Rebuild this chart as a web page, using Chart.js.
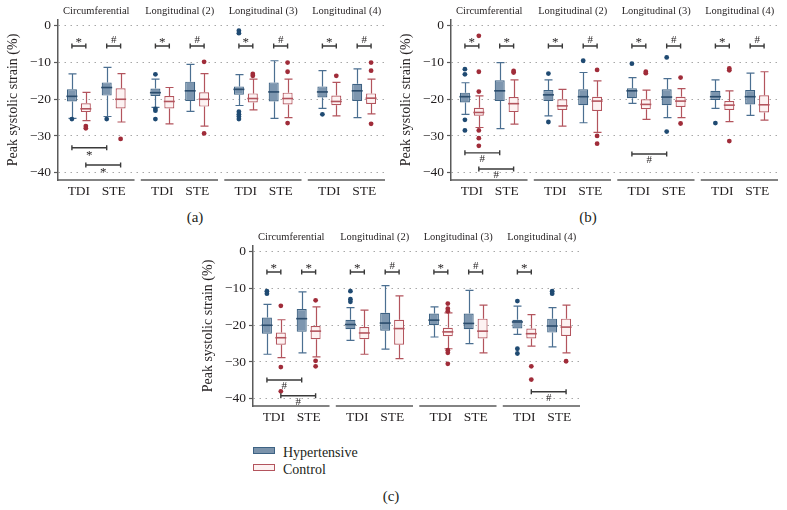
<!DOCTYPE html>
<html>
<head>
<meta charset="utf-8">
<script src="https://cdn.jsdelivr.net/npm/chart.js@4.4.1/dist/chart.umd.min.js"></script>
<style>
  body { margin: 0; background: #fff; width: 787px; height: 510px; position: relative; overflow: hidden;
         font-family: 'Liberation Serif', 'DejaVu Serif', serif; color: #231f20; }
  canvas { position: absolute; }
  .tag { position: absolute; font-size: 15px; line-height: 18px; width: 40px; margin-left: -20px; text-align: center; }
  .leg { position: absolute; font-size: 14px; line-height: 16px; white-space: nowrap; }
  .patch { display: inline-block; width: 20px; height: 5px; border: 1px solid; margin-right: 8px; vertical-align: 3px; }
</style>
</head>
<body>
<canvas id="panelA" width="393" height="200" style="left:0;top:0"></canvas>
<canvas id="panelB" width="393" height="200" style="left:393px;top:0"></canvas>
<canvas id="panelC" width="393" height="200" style="left:195px;top:226px"></canvas>
<div class="tag" style="left:195px;top:208px">(a)</div>
<div class="tag" style="left:588px;top:208px">(b)</div>
<div class="tag" style="left:391px;top:487px">(c)</div>
<div class="leg" style="left:253px;top:445px"><span class="patch" style="background:#7b93ab;border-color:#3d6283"></span>Hypertensive</div>
<div class="leg" style="left:253px;top:462px"><span class="patch" style="background:#fdf2f2;border-color:#b3545d"></span>Control</div>
<script>
const groups = ['Circumferential', 'Longitudinal (2)', 'Longitudinal (3)', 'Longitudinal (4)'];
const methods = ['TDI', 'STE'];
const yTicks = [0, -10, -20, -30, -40];

// box stats: [low whisker, Q1, median, Q3, high whisker]
// order: Circ TDI, Circ STE, L2 TDI, L2 STE, L3 TDI, L3 STE, L4 TDI, L4 STE
const hyperA = [
  [-25.2, -20.6, -19.2, -17.3, -13.1], [-24.7, -19.0, -16.8, -15.4, -11.3],
  [-22.2, -19.1, -18.2, -17.1, -14.5], [-23.3, -20.5, -17.7, -15.2, -10.5],
  [-21.7, -18.8, -17.3, -16.5, -13.3], [-25.2, -20.6, -18.0, -15.4, -9.5],
  [-22.5, -19.5, -18.0, -16.5, -12.2], [-25.0, -20.5, -17.7, -15.8, -11.7]
];
const hyperOutA = [[-25.4], [-25.4], [-13.2, -22.6, -23.1, -25.4], [],
  [-1.3, -2.0, -23.4, -24.1, -24.7, -25.4], [], [-24.1], []];
const controlA = [
  [-25.8, -23.5, -22.6, -21.1, -18.1], [-26.2, -22.5, -20.0, -17.0, -13.0],
  [-26.7, -22.5, -20.6, -19.1, -16.8], [-27.3, -22.0, -20.0, -18.1, -13.0],
  [-22.9, -20.9, -19.8, -18.4, -14.5], [-25.0, -21.4, -19.8, -18.2, -14.5],
  [-24.5, -21.6, -20.6, -19.0, -15.4], [-24.0, -21.3, -19.7, -18.4, -14.5]
];
const controlOutA = [[-27.3, -27.9], [-30.8], [], [-9.8, -29.3],
  [-13.1, -13.6], [-10.0, -12.5, -26.5], [-13.6], [-10.0, -12.2, -26.7]];

const hyperB = [
  [-24.1, -20.9, -19.3, -18.2, -15.5], [-28.0, -20.5, -17.7, -14.8, -10.0],
  [-24.5, -20.5, -18.8, -17.5, -14.7], [-26.4, -21.6, -19.3, -17.3, -12.7],
  [-21.1, -19.7, -17.7, -17.0, -14.1], [-25.0, -21.6, -19.4, -17.3, -14.4],
  [-22.5, -20.2, -19.3, -17.7, -14.7], [-24.4, -21.4, -19.3, -17.5, -12.9]
];
const hyperOutB = [[-11.8, -13.2, -25.6, -28.5], [], [-13.0, -26.2], [-9.5],
  [-10.3], [-8.6, -28.8], [-26.5], []];
const controlB = [
  [-27.7, -24.5, -23.6, -22.3, -19.1], [-26.8, -23.5, -21.2, -19.4, -14.7],
  [-27.3, -22.9, -21.8, -20.0, -17.3], [-29.0, -23.2, -20.5, -19.3, -15.0],
  [-25.5, -22.7, -21.4, -20.0, -17.5], [-25.0, -22.1, -20.5, -19.3, -17.1],
  [-26.1, -22.9, -21.6, -20.5, -17.7], [-25.7, -23.6, -21.5, -18.9, -12.5]
];
const controlOutB = [[-2.7, -12.5, -17.9, -28.5, -30.6, -32.7], [-12.3, -12.7], [], [-12.0, -30.0, -32.1],
  [-12.5, -12.9], [-14.1, -26.6], [-11.6, -12.1, -31.4], []];

const hyperC = [
  [-27.9, -22.3, -20.0, -17.9, -14.3], [-27.5, -21.8, -18.2, -15.6, -10.9],
  [-24.1, -21.1, -19.8, -18.5, -15.2], [-26.5, -21.5, -19.4, -16.6, -9.2],
  [-23.2, -20.0, -18.6, -16.8, -15.0], [-25.0, -21.1, -19.5, -16.8, -10.5],
  [-22.5, -20.9, -19.1, -18.5, -14.8], [-25.9, -22.0, -20.2, -18.2, -15.2]
];
const hyperOutC = [[-10.7, -11.4], [], [-10.7, -12.9, -13.6], [],
  [], [], [-13.4, -26.4, -27.7], [-10.7, -11.4]];
const controlC = [
  [-28.8, -25.3, -23.4, -22.0, -18.5], [-28.6, -23.8, -21.6, -20.2, -15.0],
  [-27.9, -23.8, -22.1, -20.5, -15.9], [-29.1, -25.3, -20.9, -18.5, -12.0],
  [-26.4, -23.0, -21.8, -20.7, -16.6], [-27.5, -23.6, -21.6, -18.2, -14.5],
  [-25.7, -23.6, -22.3, -20.9, -17.1], [-27.5, -22.9, -20.5, -18.2, -14.5]
];
const controlOutC = [[-14.7, -31.4, -38.0], [-13.2, -29.7, -31.2], [], [],
  [-14.1, -15.5, -16.2, -26.8, -27.5, -30.5], [], [-31.2, -34.8], [-29.8]];

// hypertensive vs control marks, one per box pair
const topSigA = ['*', '#', '*', '#', '*', '#', '*', '#'];
const topSigB = ['*', '*', '*', '#', '*', '#', '*', '#'];
const topSigC = ['*', '*', '*', '#', '*', '#', '*', null];
const topSigLevel = -5.5;
// TDI vs STE marks: [series, from box, to box, level, mark]
const lowSigA = [['hyper', 0, 1, -33.2, '*'], ['control', 0, 1, -37.9, '*']];
const lowSigB = [['hyper', 0, 1, -34.6, '#'], ['control', 0, 1, -39.0, '#'], ['hyper', 4, 5, -34.9, '#']];
const lowSigC = [['hyper', 0, 1, -34.9, '#'], ['control', 0, 1, -39.2, '#'], ['control', 6, 7, -38.1, '#']];

const SERIF = "'Liberation Serif', 'DejaVu Serif', serif";
const INK = '#231f20';
const HYPER = { fill: '#7d96af', line: '#3d6283', whisker: '#4b6f91', median: '#2b4c6c', dot: '#1f4a72' };
const CTRL = { fill: '#fdf2f2', line: '#b3545d', whisker: '#b3545d', median: '#b3545d', dot: '#a02c39' };
const SHIFT = { hyper: -0.2, control: 0.2 };

// position of box pair i on the x scale
function pos(i) { return Math.floor(i / 2) * 2.4 + (i % 2); }

const boxExtras = {
  id: 'boxExtras',
  beforeDatasetsDraw(chart, args, opts) {
    const { ctx } = chart;
    const x = chart.scales.x, y = chart.scales.y;
    ctx.save();
    ctx.lineWidth = 1.2;
    opts.series.forEach(s => {
      ctx.strokeStyle = s.style.whisker;
      s.stats.forEach((b, i) => {
        const px = Math.round(x.getPixelForValue(pos(i) + s.shift)) + 0.5;
        ctx.beginPath();
        ctx.moveTo(px, y.getPixelForValue(b[3])); ctx.lineTo(px, y.getPixelForValue(b[4]));
        ctx.moveTo(px, y.getPixelForValue(b[1])); ctx.lineTo(px, y.getPixelForValue(b[0]));
        ctx.moveTo(px - 4, y.getPixelForValue(b[4])); ctx.lineTo(px + 4, y.getPixelForValue(b[4]));
        ctx.moveTo(px - 4, y.getPixelForValue(b[0])); ctx.lineTo(px + 4, y.getPixelForValue(b[0]));
        ctx.stroke();
      });
    });
    ctx.restore();
  },
  afterDatasetsDraw(chart, args, opts) {
    const { ctx, chartArea } = chart;
    const x = chart.scales.x, y = chart.scales.y;
    ctx.save();
    // medians
    ctx.lineWidth = 1.6;
    opts.series.forEach(s => {
      ctx.strokeStyle = s.style.median;
      s.stats.forEach((b, i) => {
        const px = x.getPixelForValue(pos(i) + s.shift);
        const py = y.getPixelForValue(b[2]);
        ctx.beginPath(); ctx.moveTo(px - 5.5, py); ctx.lineTo(px + 5.5, py); ctx.stroke();
      });
    });
    // broken x axis, one piece per group
    ctx.strokeStyle = '#5a5a5a';
    ctx.lineWidth = 1.6;
    groups.forEach((g, k) => {
      ctx.beginPath();
      ctx.moveTo(x.getPixelForValue(k * 2.4 - 0.62), chartArea.bottom);
      ctx.lineTo(x.getPixelForValue(k * 2.4 + 1.6), chartArea.bottom);
      ctx.stroke();
    });
    // significance brackets
    const bracket = (x1, x2, py, mark, below) => {
      ctx.strokeStyle = '#3a3a3a'; ctx.lineWidth = 1.4;
      ctx.beginPath();
      ctx.moveTo(x1, py); ctx.lineTo(x2, py);
      ctx.moveTo(x1, py - 2.5); ctx.lineTo(x1, py + 2.5);
      ctx.moveTo(x2, py - 2.5); ctx.lineTo(x2, py + 2.5);
      ctx.stroke();
      ctx.fillStyle = INK;
      ctx.textAlign = 'center'; ctx.textBaseline = 'middle';
      ctx.font = (mark === '*' ? '13px ' : '11px ') + SERIF;
      const dy = mark === '*' ? (below ? 8 : -3) : (below ? 6 : -5.5);
      ctx.fillText(mark, (x1 + x2) / 2, py + dy);
    };
    opts.topSig.forEach((m, i) => {
      if (!m) return;
      bracket(x.getPixelForValue(pos(i) + SHIFT.hyper), x.getPixelForValue(pos(i) + SHIFT.control),
        y.getPixelForValue(topSigLevel), m, false);
    });
    opts.lowSig.forEach(([s, a, b, lvl, m]) => {
      bracket(x.getPixelForValue(pos(a) + SHIFT[s]), x.getPixelForValue(pos(b) + SHIFT[s]),
        y.getPixelForValue(lvl), m, true);
    });
    ctx.restore();
  }
};

function boxes(stats, shift, style) {
  return {
    type: 'bar',
    data: stats.map((b, i) => ({ x: pos(i) + shift, y: [b[1], b[3]] })),
    backgroundColor: style.fill, borderColor: style.line, borderWidth: 1.2,
    borderSkipped: false, grouped: false, maxBarThickness: 11, order: 2
  };
}
function dots(outs, shift, style) {
  return {
    type: 'scatter',
    data: outs.flatMap((arr, i) => arr.map(v => ({ x: pos(i) + shift, y: v }))),
    pointRadius: 2.4, pointBackgroundColor: style.dot, pointBorderWidth: 0, order: 1
  };
}

function makePanel(id, hyper, hyperOut, control, controlOut, topSig, lowSig) {
  new Chart(document.getElementById(id), {
    type: 'bar',
    data: {
      datasets: [
        boxes(hyper, SHIFT.hyper, HYPER), boxes(control, SHIFT.control, CTRL),
        dots(hyperOut, SHIFT.hyper, HYPER), dots(controlOut, SHIFT.control, CTRL)
      ]
    },
    options: {
      responsive: false, animation: false,
      layout: { padding: { left: 0, right: 8, top: 0, bottom: 0 } },
      plugins: {
        legend: { display: false }, tooltip: { enabled: false },
        boxExtras: {
          series: [{ stats: hyper, shift: SHIFT.hyper, style: HYPER }, { stats: control, shift: SHIFT.control, style: CTRL }],
          topSig, lowSig
        }
      },
      scales: {
        x: {
          type: 'linear', min: -0.6, max: 8.8, offset: false,
          afterBuildTicks: s => { s.ticks = hyper.map((b, i) => ({ value: pos(i) })); },
          afterFit: s => { s.height = 20; s.paddingLeft = 0; s.paddingRight = 0; },
          ticks: { callback: (v, i) => methods[i % 2], autoSkip: false, maxRotation: 0,
                   font: { family: SERIF, size: 13.5 }, color: INK, padding: 3 },
          grid: { display: false, drawTicks: false, offset: false },
          border: { display: false }
        },
        x2: {
          type: 'linear', position: 'top', min: -0.6, max: 8.8, offset: false,
          afterBuildTicks: s => { s.ticks = groups.map((g, k) => ({ value: k * 2.4 + 0.5 })); },
          afterFit: s => { s.height = 20; s.paddingLeft = 0; s.paddingRight = 0; },
          ticks: { callback: (v, i) => groups[i], autoSkip: false, maxRotation: 0,
                   font: { family: SERIF, size: 10.5 }, color: INK, padding: 2 },
          grid: { display: false, drawTicks: false, offset: false },
          border: { display: false }
        },
        y: {
          min: -42, max: 1.6,
          afterBuildTicks: s => { s.ticks = yTicks.map(v => ({ value: v })); },
          afterFit: s => { s.width = 58; s.paddingTop = 0; s.paddingBottom = 0; },
          ticks: { callback: v => v < 0 ? '\u2212' + Math.abs(v) : String(v),
                   font: { family: SERIF, size: 13.5 }, color: INK, padding: 3 },
          grid: { color: '#a8a8a8', lineWidth: 1, tickLength: 4, tickColor: '#5a5a5a', tickWidth: 1.2 },
          border: { display: true, color: '#5a5a5a', width: 1.5, dash: [1.5, 4.5] },
          title: { display: true, text: 'Peak systolic strain (%)', font: { family: SERIF, size: 14 },
                   color: INK, padding: { top: 5, bottom: 0 } }
        }
      }
    },
    plugins: [boxExtras]
  });
}

makePanel('panelA', hyperA, hyperOutA, controlA, controlOutA, topSigA, lowSigA);
makePanel('panelB', hyperB, hyperOutB, controlB, controlOutB, topSigB, lowSigB);
makePanel('panelC', hyperC, hyperOutC, controlC, controlOutC, topSigC, lowSigC);
</script>
</body>
</html>
